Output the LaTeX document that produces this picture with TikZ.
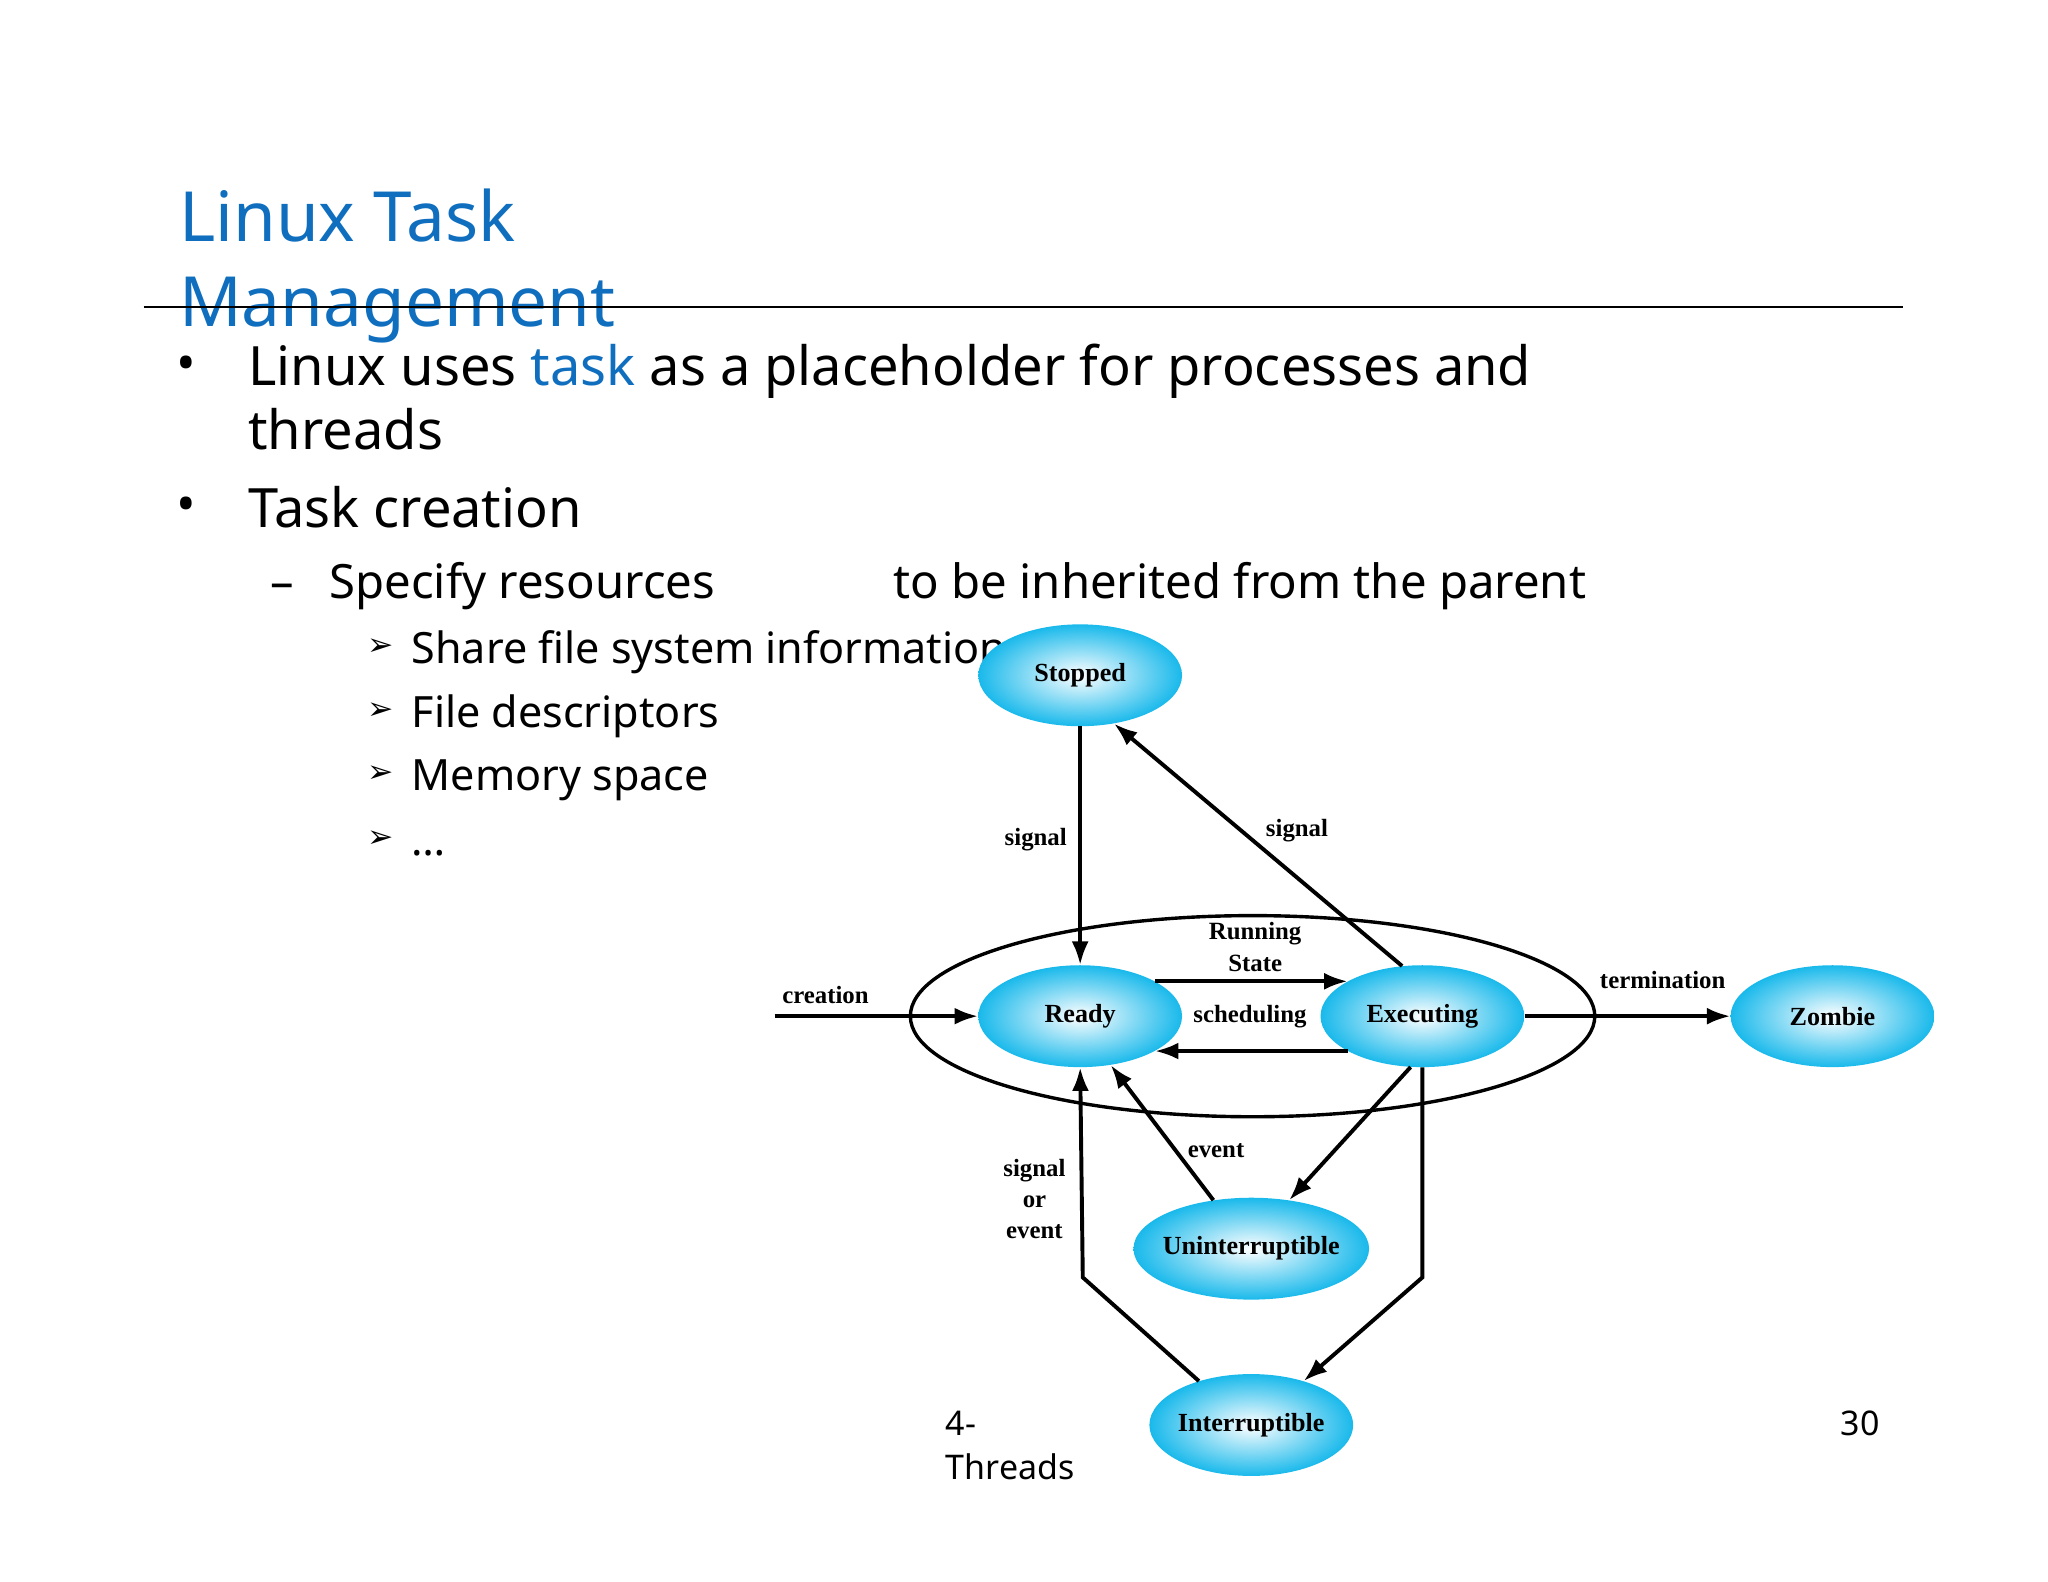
\documentclass[tikz,border=0pt]{standalone}
\usepackage{fontspec}
\setmainfont{Noto Sans}
\newfontfamily\dserif{Liberation Serif}
\newfontfamily\dej{DejaVu Sans}
\usetikzlibrary{shapes.geometric,arrows.meta}
\definecolor{ttl}{RGB}{16,110,190}
\definecolor{cyn}{RGB}{25,185,235}
\begin{document}
\begin{tikzpicture}[x=1pt,y=-1pt,
 st/.style={ellipse,minimum width=156,minimum height=78,inner xsep=-4pt,inner color=white,outer color=cyn,font=\dserif\bfseries\fontsize{20}{22}\selectfont},
 ar/.style={line width=3pt,-{Latex[length=18pt,width=13pt]}},
 lb/.style={font=\dserif\bfseries\fontsize{19}{24}\selectfont,align=center},
 tx/.style={anchor=base west,inner sep=0},
 ab/.style={tx,font=\dej\fontsize{24}{30}\selectfont},
 sb/.style={tx,font=\fontsize{33}{38}\selectfont}]
\useasboundingbox (0,0) rectangle (1568,1211);
% slide text
\node[tx,text=ttl,font=\fontsize{53}{60}\selectfont] (t1) at (137,185) {Linux Task};
\node[tx,text=ttl,font=\fontsize{53}{60}\selectfont] (t2) at (137,250) {Management};
\draw[line width=1.4pt] (110,235) -- (1457,235);
\node[tx,font=\fontsize{40}{30}\selectfont] (b1) at (135,292) {•};
\node[tx,font=\fontsize{41.5}{48}\selectfont] (l1) at (190,295) {Linux uses \textcolor{ttl}{task} as a placeholder for processes and};
\node[tx,font=\fontsize{41.5}{48}\selectfont] (l2) at (190,344) {threads};
\node[tx,font=\fontsize{40}{30}\selectfont] (b2) at (135,400) {•};
\node[tx,font=\fontsize{41.5}{48}\selectfont] (l3) at (190,404) {Task creation};
\node[tx,font=\fontsize{36}{42}\selectfont] (d1) at (207,458) {–};
\node[tx,font=\fontsize{36.2}{42}\selectfont] (l4) at (252,458) {Specify resources};
\node[tx,font=\fontsize{36.2}{42}\selectfont] (l4b) at (684,458) {to be inherited from the parent};
\node[ab] (a1) at (281,502) {\symbol{"27A2}};
\node[ab] (a2) at (281,551) {\symbol{"27A2}};
\node[ab] (a3) at (281,599) {\symbol{"27A2}};
\node[ab] (a4) at (281,649) {\symbol{"27A2}};
\node[sb] (s1) at (315,508) {Share file system information};
\node[sb] (s2) at (315,557) {File descriptors};
\node[sb] (s3) at (315,605) {Memory space};
\node[sb] (s4) at (315,655) {…};
\node[tx,font=\fontsize{26}{30}\selectfont] (f1) at (724,1099) {4-};
\node[tx,font=\fontsize{26}{30}\selectfont] (f2) at (724,1133) {Threads};
\node[tx,font=\fontsize{26}{30}\selectfont] (f3) at (1409,1099) {30};
% diagram
\draw[line width=2.6pt] (959,778) ellipse [x radius=262,y radius=77];
\node[st] (stop) at (827,517) {Stopped};
\node[st] (ready) at (827,778) {Ready};
\node[st] (exec) at (1089,778) {Executing};
\node[st] (zomb) at (1403,778) {Zombie};
\node[st] (unin) at (958,956) {Uninterruptible};
\node[st] (intr) at (958,1091) {Interruptible};
\coordinate (c0) at (593,778);
\coordinate (k1) at (1089,978);
\coordinate (k2) at (829,978);
\draw[ar] (stop.south) -- (ready.north);
\draw[ar] (exec.112) -- (stop.-55);
\draw[ar] (c0) -- (ready.west);
\draw[ar] (ready.25) -- (exec.155);
\draw[ar] (exec.-155) -- (ready.-25);
\draw[ar] (exec.east) -- (zomb.west);
\draw[ar] (exec.-103) -- (unin.52);
\draw[ar] (unin.128) -- (ready.-58);
\draw[ar] (exec.south) -- (k1) -- (intr.40);
\draw[ar] (intr.140) -- (k2) -- (ready.south);
\node[lb] (ls1) at (793,643) {signal};
\node[lb] (ls2) at (993,636) {signal};
\node[lb] (lc) at (632,762) {creation};
\node[lb] (lsc) at (957,778) {scheduling};
\node[lb] (lt) at (1273,750) {termination};
\node[lb] (le) at (931,881) {event};
\node[lb] (lso) at (792,918) {signal\\or\\event};
\node[lb] (lr) at (961,725) {Running\\State};
\end{tikzpicture}
\end{document}
